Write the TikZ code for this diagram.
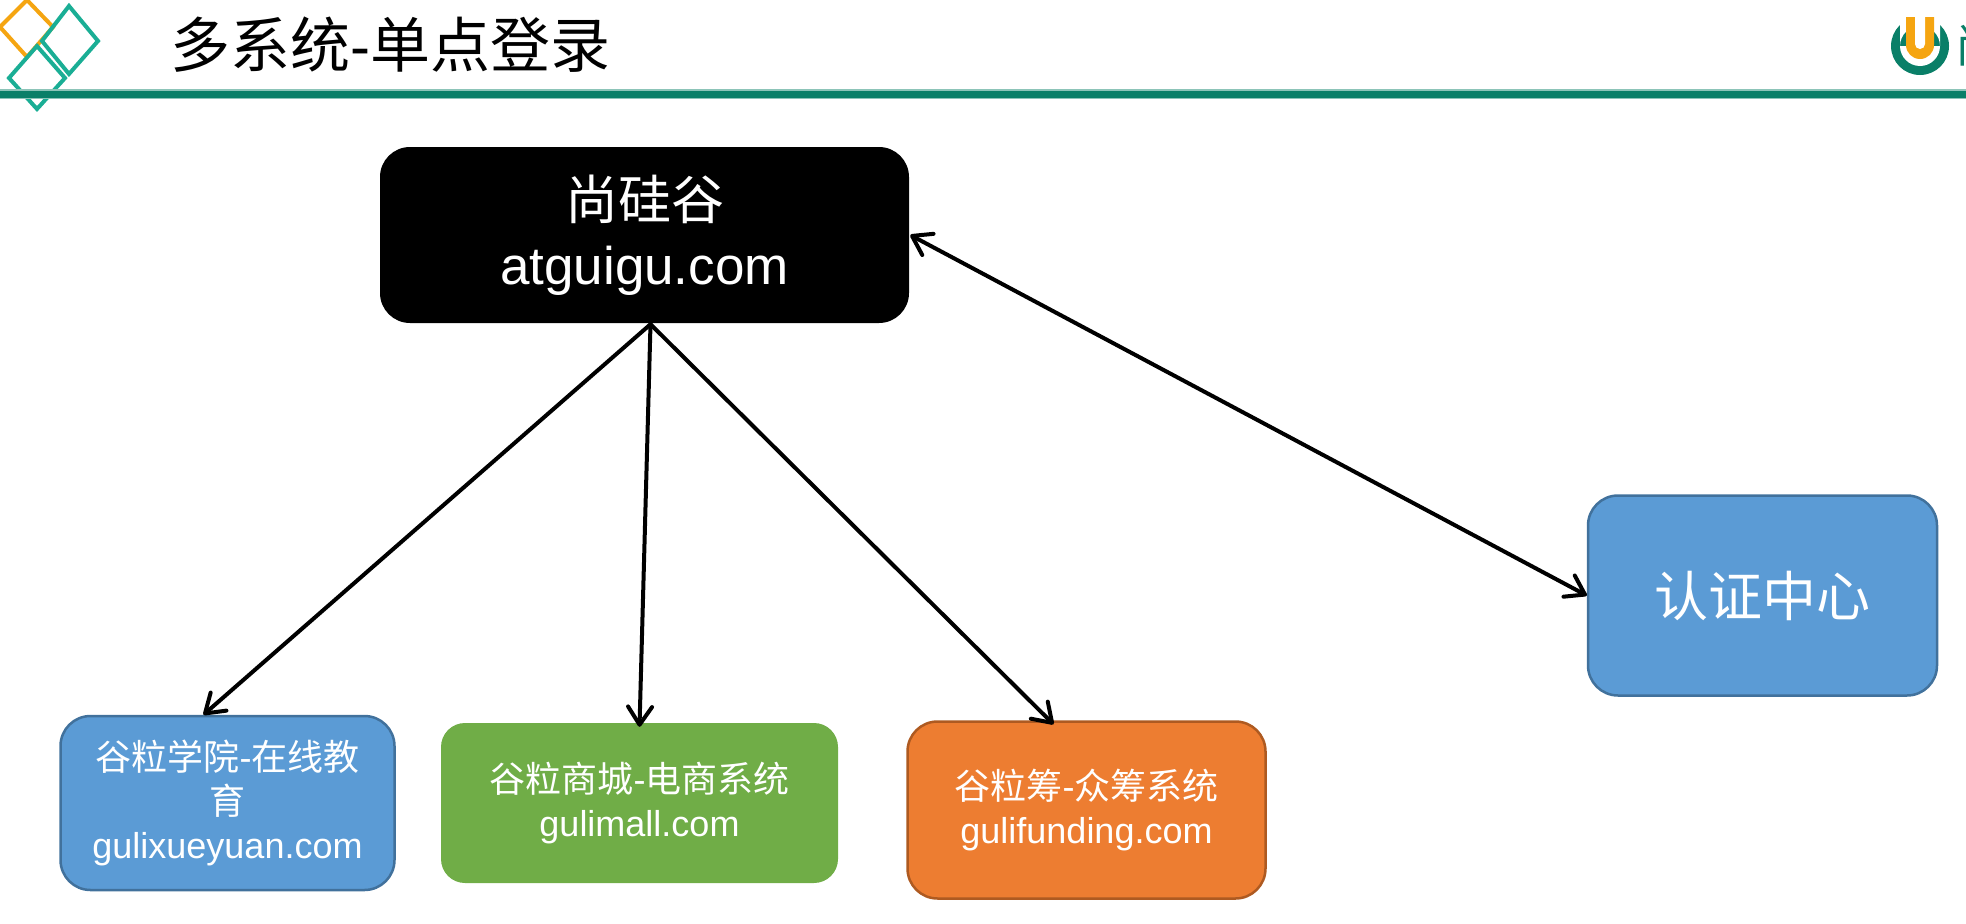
\documentclass[tikz,border=0pt]{standalone}
\usepackage{fontspec}
\setmainfont{Liberation Sans}
\newfontfamily\cjk{Noto Sans CJK SC}
\usetikzlibrary{arrows.meta}
\definecolor{railgreen}{HTML}{0A7F68}
\definecolor{railpale}{HTML}{8CC4B8}
\definecolor{logoteal}{HTML}{1AAE95}
\definecolor{logoorange}{HTML}{F5A511}
\definecolor{boxblue}{HTML}{5B9BD5}
\definecolor{edgeblue}{HTML}{41719C}
\definecolor{boxgreen}{HTML}{70AD47}
\definecolor{boxorange}{HTML}{ED7D31}
\definecolor{edgeorange}{HTML}{AE5A21}
\tikzset{
  x=1pt,y=-1pt,
  card/.style={rectangle,rounded corners=30pt,inner sep=0pt,align=center,text=white,line width=2.5pt},
  link/.style={line width=4pt,line cap=round,line join=round,black},
  barb/.style={-{Straight Barb[length=18pt,width=24pt,line width=4pt,round]}},
  dbarb/.style={{Straight Barb[length=18pt,width=24pt,line width=4pt,round]}-{Straight Barb[length=18pt,width=24pt,line width=4pt,round]}},
  gem/.style={line width=4pt,line join=miter}
}
\newcommand{\smalltext}{\fontsize{36}{44}\selectfont}
\newcommand{\bigtext}{\fontsize{53}{65}\selectfont}
\begin{document}
\begin{tikzpicture}
\useasboundingbox (0,0) rectangle (1966,924);
\begin{scope}
\clip (0,0) rectangle (1966,924);
% header logo
\draw[gem,logoorange] (0,27) -- (27,0) -- (53,27) -- (27,57) -- cycle;
\draw[gem,logoteal] (42,41) -- (69,6) -- (98,41) -- (69,74) -- cycle;
\draw[gem,logoteal] (9,78) -- (37,46) -- (65,78) -- (37,109) -- cycle;
% rule
\fill[railpale] (0,89) rectangle (1966,99);
\fill[railgreen] (0,90.5) rectangle (1966,97.5);
% brand mark
\fill[railgreen] (1920,46) circle (29);
\fill[white] (1900,10) rectangle (1940,46) (1920,46) circle (20);
\fill[logoorange] (1906,17) -- (1934,17) -- (1934,45) arc[start angle=0,end angle=180,radius=14] -- cycle;
\fill[white] (1915,17) -- (1925,17) -- (1925,44) arc[start angle=0,end angle=180,radius=5] -- cycle;
\node[anchor=west,inner sep=0pt,text=railgreen,font=\fontsize{46}{46}\selectfont\cjk] (brand) at (1955,45) {尚};
\end{scope}
\node[anchor=west,inner sep=0pt,font=\fontsize{60}{72}\selectfont] (title) at (170,45) {{\cjk 多系统}-{\cjk 单点登录}};
% boxes
\node[card,fill=black,minimum width=529pt,minimum height=176pt,font=\bigtext] (top) at (644.5,235) {{\cjk 尚硅谷}\\atguigu.com};
\node[card,fill=boxblue,draw=edgeblue,minimum width=349pt,minimum height=200pt,font=\fontsize{54}{65}\selectfont] (auth) at (1762.5,595.5) {\cjk 认证中心};
\node[card,fill=boxblue,draw=edgeblue,minimum width=334pt,minimum height=174pt,font=\smalltext] (school) at (227.5,803) {{\cjk 谷粒学院}-{\cjk 在线教}\\{\cjk 育}\\gulixueyuan.com};
\node[card,fill=boxgreen,rounded corners=24pt,minimum width=397pt,minimum height=160pt,font=\smalltext] (mall) at (639.5,803) {{\cjk 谷粒商城}-{\cjk 电商系统}\\gulimall.com};
\node[card,fill=boxorange,draw=edgeorange,minimum width=358pt,minimum height=177pt,font=\smalltext] (funding) at (1086.5,810) {{\cjk 谷粒筹}-{\cjk 众筹系统}\\gulifunding.com};
% connectors
\draw[link,barb] ([xshift=6pt]top.south) -- ([xshift=-24pt]school.north);
\draw[link,barb] ([xshift=6pt]top.south) -- ([yshift=-5pt]mall.north);
\draw[link,barb] ([xshift=6pt]top.south) -- ([xshift=-33pt,yshift=-4pt]funding.north);
\draw[link,dbarb] (top.east) -- (auth.west);
\end{tikzpicture}
\end{document}
